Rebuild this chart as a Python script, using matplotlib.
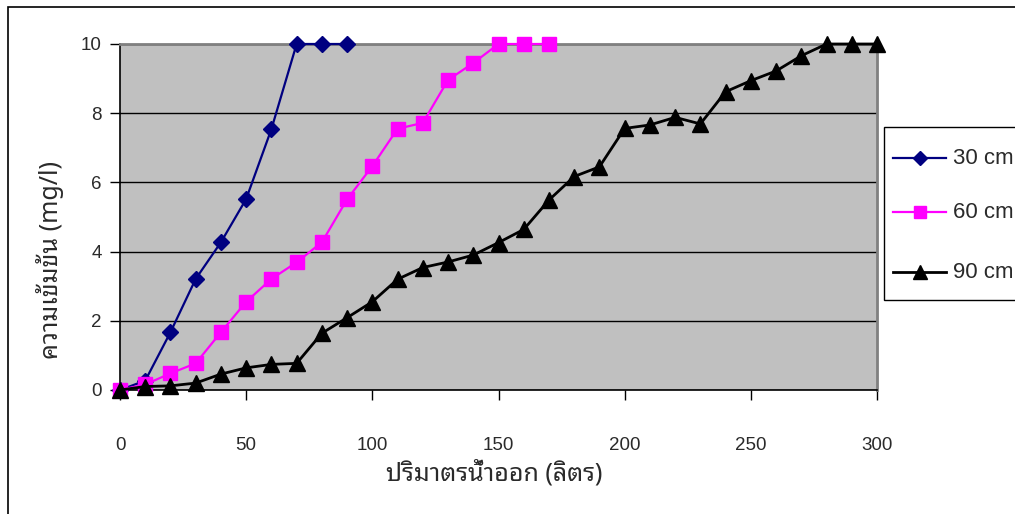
import matplotlib
matplotlib.use("Agg")
import matplotlib.pyplot as plt
from matplotlib.patches import Rectangle
from matplotlib.lines import Line2D

# Effluent volume (litres) and concentration (mg/l) for each depth
x_30 = [0, 10, 20, 30, 40, 50, 60, 70, 80, 90]
y_30 = [0, 0.27, 1.67, 3.21, 4.27, 5.52, 7.54, 10, 10, 10]

x_60 = [0, 10, 20, 30, 40, 50, 60, 70, 80, 90, 100, 110, 120, 130, 140, 150, 160, 170]
y_60 = [0, 0.16, 0.48, 0.77, 1.67, 2.55, 3.21, 3.69, 4.27, 5.51, 6.47, 7.55, 7.72,
        8.96, 9.45, 10, 10, 10]

x_90 = list(range(0, 301, 10))
y_90 = [0, 0.1, 0.12, 0.2, 0.46, 0.64, 0.74, 0.77, 1.64, 2.09, 2.55, 3.2, 3.54,
        3.7, 3.9, 4.26, 4.64, 5.49, 6.17, 6.45, 7.56, 7.66, 7.88, 7.69, 8.62,
        8.94, 9.22, 9.66, 10, 10, 10]

series_labels = ["30 cm", "60 cm", "90 cm"]
x_ticks = [0, 50, 100, 150, 200, 250, 300]
y_ticks = [0, 2, 4, 6, 8, 10]
x_title = "ปริมาตรน้ำออก (ลิตร)"
y_title = "ความเข้มข้น (mg/l)"

thai_fonts = ["Noto Sans Thai Looped", "Loma", "Garuda", "Noto Sans Thai",
              "Liberation Sans", "DejaVu Sans"]
plt.rcParams["font.family"] = ["Liberation Sans", "DejaVu Sans"]

W, H = 1015, 514
fig = plt.figure(figsize=(W / 100, H / 100), dpi=100)
fig.patch.set_facecolor("white")

# outer chart frame (runs off the right and bottom edges)
fig.patches.append(Rectangle((8 / W, -0.2), 1.5, 1.2 - 7 / H,
                             transform=fig.transFigure, fill=False,
                             edgecolor="black", linewidth=1.2))

ax = fig.add_axes([120 / W, 1 - 390 / H, (877 - 120) / W, (390 - 44) / H])
ax.set_facecolor("#C0C0C0")
ax.set_xlim(0, 300)
ax.set_ylim(0, 10)
ax.set_xticks(x_ticks)
ax.set_yticks(y_ticks)
ax.yaxis.grid(True, color="black", linewidth=1.0)
ax.set_axisbelow(True)

for side in ("top", "right"):
    ax.spines[side].set_color("#808080")
    ax.spines[side].set_linewidth(2.0)
for side in ("left", "bottom"):
    ax.spines[side].set_color("black")
    ax.spines[side].set_linewidth(1.2)

ax.tick_params(axis="both", direction="out", length=7, width=1, color="black",
               labelsize=13.5, labelcolor="#2a2a2a")
ax.tick_params(axis="x", pad=27)
ax.tick_params(axis="y", pad=6)

ax.plot(x_30, y_30, color="#000080", linewidth=1.6, marker="D", markersize=8.5,
        markerfacecolor="#000080", markeredgecolor="#000080", clip_on=False, zorder=3)
ax.plot(x_60, y_60, color="#FF00FF", linewidth=1.6, marker="s", markersize=10.5,
        markerfacecolor="#FF00FF", markeredgecolor="#FF00FF", clip_on=False, zorder=4)
ax.plot(x_90, y_90, color="black", linewidth=2.0, marker="^", markersize=12,
        markerfacecolor="black", markeredgecolor="black", clip_on=False, zorder=5)

fig.text(494 / W, 1 - 473 / H, x_title, ha="center", va="center",
         fontsize=18, color="#2a2a2a", family=thai_fonts)
fig.text(50 / W, 1 - 260 / H, y_title, ha="center", va="center", rotation=90,
         fontsize=18, color="#2a2a2a", family=thai_fonts)

# legend box, cut by the right edge
fig.patches.append(Rectangle((884 / W, 1 - 300 / H), 0.3, (300 - 127) / H,
                             transform=fig.transFigure, facecolor="white",
                             edgecolor="black", linewidth=1.0))
styles = [("#000080", "D", 8.5, 1.6), ("#FF00FF", "s", 10.5, 1.6), ("black", "^", 12, 2.0)]
for (c, m, ms, lw), lab, yy in zip(styles, series_labels, [158, 212, 272]):
    yf = 1 - yy / H
    fig.lines.append(Line2D([893 / W, 946 / W], [yf, yf], transform=fig.transFigure,
                            color=c, linewidth=lw))
    fig.lines.append(Line2D([919.5 / W], [yf], transform=fig.transFigure,
                            color=c, marker=m, markersize=ms * 0.85, linestyle="none"))
    fig.text(953 / W, yf, lab, ha="left", va="center", fontsize=16, color="#2a2a2a")

fig.savefig("out.png", dpi=100)
